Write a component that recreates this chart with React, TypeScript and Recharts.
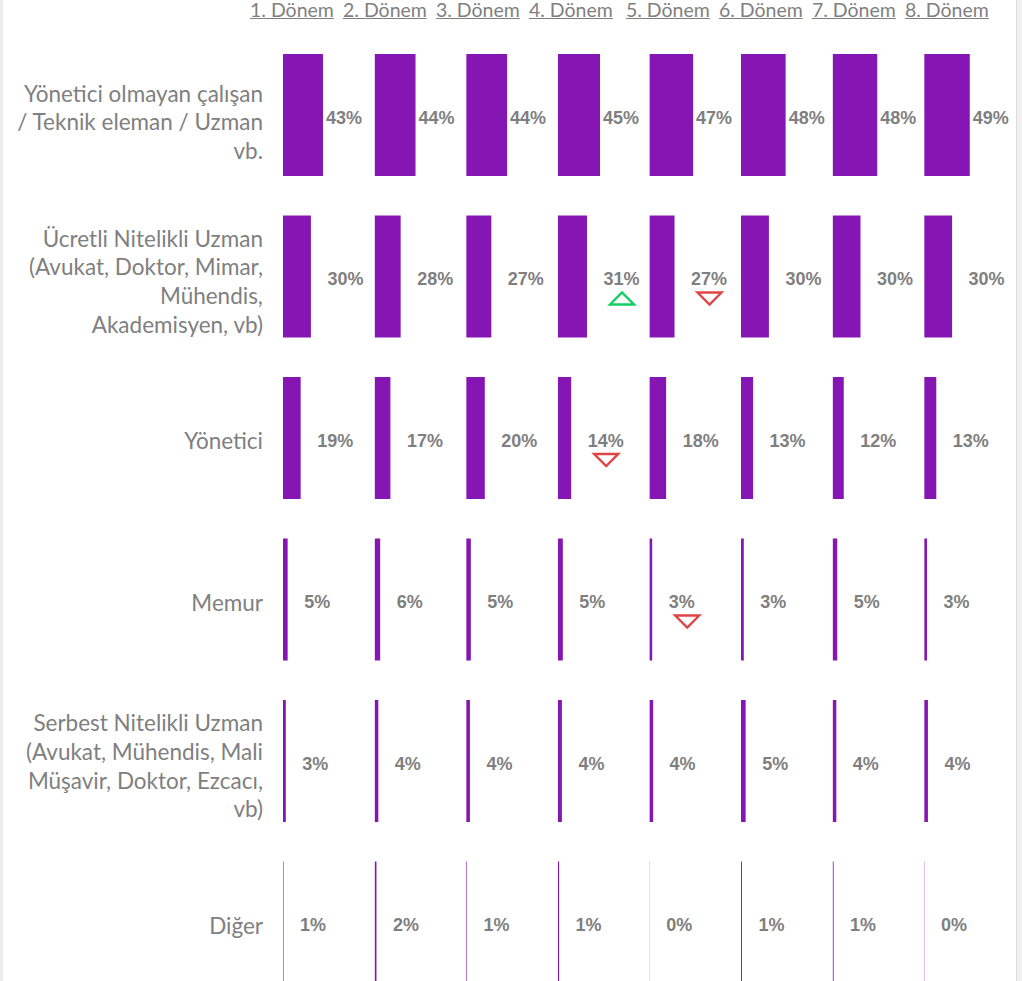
import React from "react";
import { BarChart, Bar, XAxis, YAxis } from "recharts";

const periods = [
  "1. Dönem",
  "2. Dönem",
  "3. Dönem",
  "4. Dönem",
  "5. Dönem",
  "6. Dönem",
  "7. Dönem",
  "8. Dönem",
];

// tick labels, already broken into lines like the reference
const categoryLines = [
  ["Yönetici olmayan çalışan", "/ Teknik eleman / Uzman", "vb."],
  ["Ücretli Nitelikli Uzman", "(Avukat, Doktor, Mimar,", "Mühendis,", "Akademisyen, vb)"],
  ["Yönetici"],
  ["Memur"],
  ["Serbest Nitelikli Uzman", "(Avukat, Mühendis, Mali", "Müşavir, Doktor, Ezcacı,", "vb)"],
  ["Diğer"],
];
const categories = categoryLines.map((l) => l.join(" "));

// share (%) per category, one array per period
const period1 = [43, 30, 19, 5, 3, 0.6];
const period2 = [44, 28, 17, 6, 4, 2.0];
const period3 = [44, 27, 20, 5, 4, 0.8];
const period4 = [45.4, 31.4, 14.4, 5.4, 4.4, 1.4];
const period5 = [47, 27, 18, 3, 4, 0.3];
const period6 = [48, 30, 13, 3, 5, 1.0];
const period7 = [48, 30, 12, 5, 4, 1.1];
const period8 = [49, 30, 13, 3, 4, 0.35];
const periodValues = [period1, period2, period3, period4, period5, period6, period7, period8];

// significant change markers
const changeMarks = [
  { period: "4. Dönem", category: categories[1], dir: "up" },
  { period: "5. Dönem", category: categories[1], dir: "down" },
  { period: "4. Dönem", category: categories[2], dir: "down" },
  { period: "5. Dönem", category: categories[3], dir: "down" },
];

const BAR_COLOR = "#8616b4";
const TEXT_GRAY = "#7f7f7f";
const PLOT_LEFT = 283;
const COL_W = 91.6;
const PX_PER_POINT = 0.93;
const COL_UNITS = COL_W / PX_PER_POINT;
const CHART_W = PLOT_LEFT + COL_W * periods.length;
const CHART_H = 1003;

const data = categories.map((name, ci) => {
  const row: Record<string, number | string> = { name };
  periods.forEach((_, pi) => {
    row[`p${pi}`] = periodValues[pi][ci];
  });
  return row;
});

const CategoryTick = (props: any) => {
  const { x, y, payload } = props;
  const idx = categories.indexOf(payload.value);
  const lines = idx >= 0 ? categoryLines[idx] : [String(payload.value)];
  const lh = 28.6;
  const shift = lines.length === 1 ? 4 : lines.length === 3 ? 8 : 6;
  const start = y + shift - ((lines.length - 1) / 2) * lh + 7.5;
  return (
    <text
      textAnchor="end"
      fill={TEXT_GRAY}
      fontFamily="Lato, sans-serif"
      fontSize={22.5}
    >
      {lines.map((l, i) => (
        <tspan key={i} x={x - 20} y={start + i * lh}>
          {l}
        </tspan>
      ))}
    </text>
  );
};

const makeShape = (pi: number) => (props: any) => {
  const { x, y, width, height, payload } = props;
  const value = payload[`p${pi}`] as number;
  const barEnd = x + width;
  const cy = y + height / 2;
  const gap = value >= 40 ? 3 : 16.5;
  const mark = changeMarks.find(
    (m) => m.period === periods[pi] && m.category === payload.name
  );
  const tx = barEnd + 35;
  const ty = cy + 15;
  return (
    <g>
      <rect x={x} y={y} width={width} height={height} fill={BAR_COLOR} />
      <text
        x={barEnd + gap}
        y={cy + 9}
        fill={TEXT_GRAY}
        fontFamily="'Liberation Sans', Arial, sans-serif"
        fontWeight="bold"
        fontSize={18}
      >
        {`${Math.round(value)}%`}
      </text>
      {mark && mark.dir === "up" && (
        <path
          d={`M${tx - 12},${ty + 13} L${tx},${ty + 1} L${tx + 12},${ty + 13} Z`}
          fill="none"
          stroke="#12cf63"
          strokeWidth={2.4}
        />
      )}
      {mark && mark.dir === "down" && (
        <path
          d={`M${tx - 12},${ty + 1} L${tx + 12},${ty + 1} L${tx},${ty + 13} Z`}
          fill="none"
          stroke="#e04545"
          strokeWidth={2.4}
        />
      )}
    </g>
  );
};

export default function App() {
  return (
    <div
      style={{
        position: "absolute",
        left: 0,
        top: 0,
        width: 1022,
        height: 981,
        overflow: "hidden",
        background: "#fff",
      }}
    >
      <div style={{ position: "absolute", left: 0, top: 0, width: 3, height: 981, background: "#ececec" }} />
      <div
        style={{
          position: "absolute",
          left: 1016,
          top: 0,
          width: 6,
          height: 981,
          background: "#f1f1f1",
          borderLeft: "1px solid #dedede",
        }}
      />
      <div
        style={{
          position: "absolute",
          left: 250,
          top: 0,
          display: "flex",
          fontFamily: "Lato, sans-serif",
          fontSize: 19.5,
          lineHeight: "20px",
          color: TEXT_GRAY,
          whiteSpace: "nowrap",
        }}
      >
        {periods.map((p, i) => (
          <span
            key={p}
            style={{
              display: "inline-block",
              width: 83.3,
              marginRight: 9.7,
              marginLeft: i === 4 ? 4 : 0,
              paddingBottom: 2,
              textAlign: "center",
              textDecoration: "underline",
            }}
          >
            {p}
          </span>
        ))}
      </div>
      <div style={{ position: "absolute", left: 0, top: 0 }}>
        <BarChart
          width={CHART_W}
          height={CHART_H}
          data={data}
          layout="vertical"
          margin={{ top: 34, right: 0, bottom: 0, left: 0 }}
        >
          {periods.map((p, i) => (
            <XAxis
              key={`x-${p}`}
              xAxisId={i}
              type="number"
              domain={[0, COL_UNITS]}
              allowDataOverflow
              hide
              padding={{ left: i * COL_W, right: (periods.length - 1 - i) * COL_W }}
            />
          ))}
          {periods.map((p, i) => (
            <YAxis
              key={`y-${p}`}
              yAxisId={i}
              type="category"
              dataKey="name"
              width={PLOT_LEFT}
              hide={i > 0}
              axisLine={false}
              tickLine={false}
              tickSize={0}
              tickMargin={0}
              interval={0}
              tick={i === 0 ? <CategoryTick /> : false}
            />
          ))}
          {periods.map((p, i) => (
            <Bar
              key={`bar-${p}`}
              dataKey={`p${i}`}
              name={p}
              xAxisId={i}
              yAxisId={i}
              barSize={122}
              fill={BAR_COLOR}
              shape={makeShape(i)}
              isAnimationActive={false}
            />
          ))}
        </BarChart>
      </div>
    </div>
  );
}
